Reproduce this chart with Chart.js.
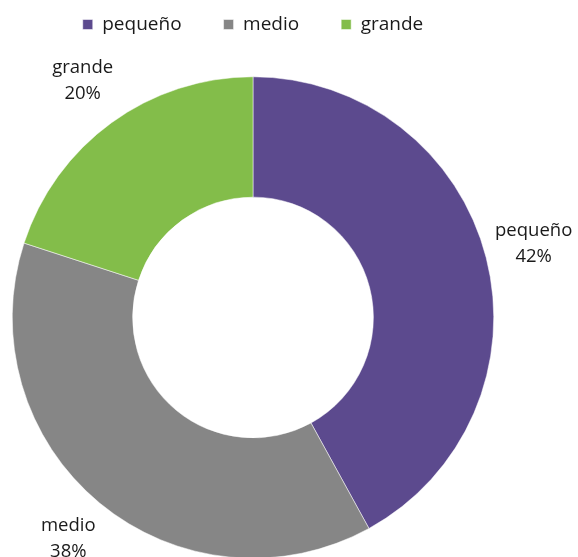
<!DOCTYPE html>
<html>
<head>
    <meta charset="utf-8">
    <title>Tamaño</title>
    <script src="https://cdn.jsdelivr.net/npm/chart.js@4/dist/chart.umd.min.js"></script>
    <style>
        html, body {
            margin: 0;
            padding: 0;
            background: #ffffff;
            overflow: hidden;
        }
        .container {
            width: 578px;
            height: 591px;
            position: relative;
        }
    </style>
</head>

<body>
    <div class="container">
        <canvas id="sizeChart"></canvas>
    </div>
    <script>
        // Data
        const categories = ["pequeño", "medio", "grande"];
        const shares = [42, 38, 20];
        const sliceColors = ["#5c4a8e", "#868686", "#83bd4a"];

        const textColor = "#1a1a1a";
        const labelSize = 18.5;
        const legendSize = 19;

        Chart.defaults.font.family = "'Open Sans', sans-serif";
        Chart.defaults.color = textColor;

        // Draws "name / xx%" outside each slice, along its middle angle
        const outsideLabels = {
            id: "outsideLabels",
            afterDatasetsDraw(chart) {
                const ctx = chart.ctx;
                const meta = chart.getDatasetMeta(0);
                const values = chart.data.datasets[0].data;
                const total = values.reduce((a, b) => a + b, 0);
                ctx.save();
                ctx.font = labelSize + "px 'Open Sans', sans-serif";
                ctx.fillStyle = textColor;
                ctx.textAlign = "center";
                ctx.textBaseline = "middle";
                meta.data.forEach((arc, i) => {
                    const p = arc.getProps(["x", "y", "startAngle", "endAngle", "outerRadius"], true);
                    const mid = (p.startAngle + p.endAngle) / 2;
                    const r = p.outerRadius + 49;
                    const x = p.x + Math.cos(mid) * r;
                    const y = p.y + Math.sin(mid) * r - 2;
                    const pct = Math.round(values[i] / total * 100) + "%";
                    ctx.fillText(chart.data.labels[i], x, y - 13);
                    ctx.fillText(pct, x, y + 13);
                });
                ctx.restore();
            }
        };

        new Chart(document.getElementById("sizeChart"), {
            type: "doughnut",
            data: {
                labels: categories,
                datasets: [{
                    data: shares,
                    backgroundColor: sliceColors,
                    borderColor: "#ffffff",
                    borderWidth: 0.5
                }]
            },
            options: {
                responsive: true,
                maintainAspectRatio: false,
                animation: false,
                events: [],
                cutout: "50%",
                layout: {
                    // negative top lets the legend sit high while the ring starts at y=76
                    padding: { top: -27, left: 12, right: 84, bottom: 0 }
                },
                plugins: {
                    legend: {
                        position: "top",
                        labels: {
                            boxWidth: 10,
                            boxHeight: 10,
                            padding: 42,
                            color: textColor,
                            font: { size: legendSize }
                        }
                    },
                    tooltip: { enabled: false }
                }
            },
            plugins: [outsideLabels]
        });
    </script>
</body>
</html>
